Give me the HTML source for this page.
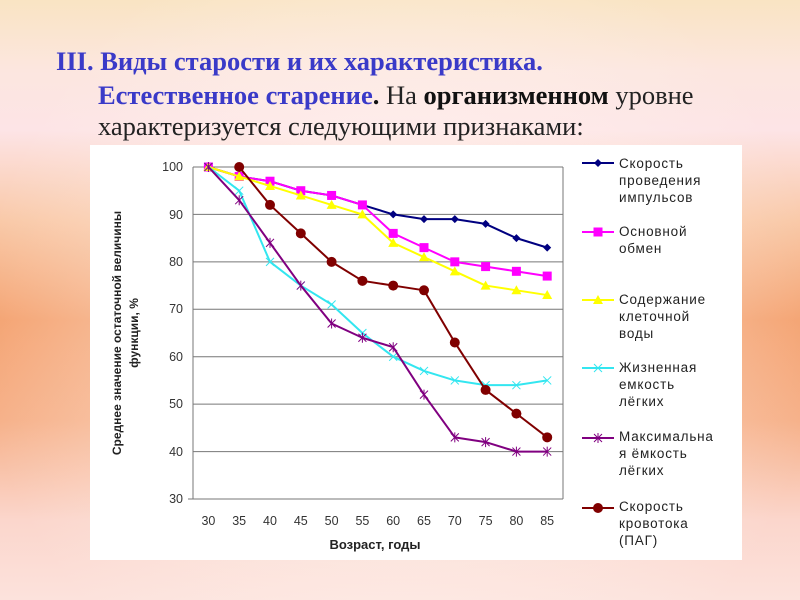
<!DOCTYPE html>
<html><head><meta charset="utf-8"><style>
html,body{margin:0;padding:0}
body{width:800px;height:600px;overflow:hidden;position:relative;
background:
radial-gradient(ellipse 420px 420px at 400px 330px, rgba(255,245,240,0.85), rgba(255,240,235,0) 100%),
linear-gradient(to bottom,#f9e4c3 0px,#fce6df 70px,#fde4e6 130px,#f9c9a8 220px,#f4a270 320px,#f6b088 420px,#fbd6cc 520px,#fce2dc 600px);
font-family:"Liberation Serif",serif}
.t1{position:absolute;left:56px;top:44px;font-size:26.5px;font-weight:bold;color:#3a3ac8;white-space:nowrap;line-height:34px}
.t2{position:absolute;left:98px;top:80px;font-size:26.5px;color:#222;white-space:nowrap;line-height:31px}
.b{color:#3a3ac8;font-weight:bold}
.k{font-weight:bold;color:#111}
svg{position:absolute;left:0;top:0}
</style></head><body>
<div class="t1">III. Виды старости и их характеристика.</div>
<div class="t2"><span class="b">Естественное старение</span><span class="k">.</span> На <span class="k">организменном</span> уровне<br>характеризуется следующими признаками:</div>
<svg width="800" height="600" id="s" font-family="Liberation Sans, sans-serif">
<rect x="90" y="145" width="652" height="415" fill="#fff"/>
<g stroke="#777" stroke-width="1">
<line x1="193" y1="167" x2="563" y2="167"/><line x1="193" y1="214.4" x2="563" y2="214.4"/><line x1="193" y1="261.9" x2="563" y2="261.9"/><line x1="193" y1="309.3" x2="563" y2="309.3"/><line x1="193" y1="356.7" x2="563" y2="356.7"/><line x1="193" y1="404.1" x2="563" y2="404.1"/><line x1="193" y1="451.6" x2="563" y2="451.6"/>
<line x1="193" y1="167" x2="193" y2="499"/><line x1="188" y1="499" x2="563" y2="499"/><line x1="563" y1="167" x2="563" y2="499"/>
</g>
<g font-size="12.5" fill="#333" text-anchor="end">
<text x="183" y="171">100</text><text x="183" y="219">90</text><text x="183" y="266">80</text><text x="183" y="313">70</text><text x="183" y="361">60</text><text x="183" y="408">50</text><text x="183" y="456">40</text><text x="183" y="503">30</text>
</g>
<g font-size="12.5" fill="#333" text-anchor="middle" id="xl"></g>
<text x="375" y="549" font-size="13" font-weight="bold" text-anchor="middle" fill="#222">Возраст, годы</text>
<text transform="translate(121,333) rotate(-90)" font-size="12" font-weight="bold" text-anchor="middle" fill="#222"><tspan x="0" y="0">Среднее значение остаточной величины</tspan><tspan x="0" y="17">функции, %</tspan></text>
<g id="ser"></g>
<g font-size="13.5" fill="#222" letter-spacing="0.8">
<text x="619" y="168">Скорость</text><text x="619" y="185">проведения</text><text x="619" y="202">импульсов</text>
<text x="619" y="236">Основной</text><text x="619" y="253">обмен</text>
<text x="619" y="304">Содержание</text><text x="619" y="321">клеточной</text><text x="619" y="338">воды</text>
<text x="619" y="372">Жизненная</text><text x="619" y="389">емкость</text><text x="619" y="406">лёгких</text>
<text x="619" y="441">Максимальна</text><text x="619" y="458">я ёмкость</text><text x="619" y="475">лёгких</text>
<text x="619" y="511">Скорость</text><text x="619" y="528">кровотока</text><text x="619" y="545">(ПАГ)</text>
</g>
</svg>
<script>
var NS="http://www.w3.org/2000/svg",xl=document.getElementById('xl'),g=document.getElementById('ser');
function X(i){return 208.4+30.8*i}function Y(v){return 499-(v-30)*4.743}
for(var i=0;i<12;i++){var t=document.createElementNS(NS,'text');t.setAttribute('x',X(i));t.setAttribute('y',525);t.textContent=30+5*i;xl.appendChild(t);}
function el(n,a){var e=document.createElementNS(NS,n);for(var k in a)e.setAttribute(k,a[k]);g.appendChild(e);return e}
function mark(type,c,x,y){
 if(type=='d')el('polygon',{points:(x)+','+(y-4)+' '+(x+4)+','+y+' '+x+','+(y+4)+' '+(x-4)+','+y,fill:c});
 else if(type=='s')el('rect',{x:x-4.5,y:y-4.5,width:9,height:9,fill:c});
 else if(type=='t')el('polygon',{points:x+','+(y-5)+' '+(x+5)+','+(y+4)+' '+(x-5)+','+(y+4),fill:c});
 else if(type=='x'){el('path',{d:'M'+(x-4)+' '+(y-4)+'L'+(x+4)+' '+(y+4)+'M'+(x+4)+' '+(y-4)+'L'+(x-4)+' '+(y+4),stroke:c,'stroke-width':1});}
 else if(type=='a'){el('path',{d:'M'+(x-4)+' '+(y-4)+'L'+(x+4)+' '+(y+4)+'M'+(x+4)+' '+(y-4)+'L'+(x-4)+' '+(y+4)+'M'+x+' '+(y-5)+'L'+x+' '+(y+5),stroke:c,'stroke-width':1});}
 else if(type=='c')el('circle',{cx:x,cy:y,r:5,fill:c});
}
var S=[
 ['#000080','d',0,[100,98,97,95,94,92,90,89,89,88,85,83]],
 ['#ff00ff','s',0,[100,98,97,95,94,92,86,83,80,79,78,77]],
 ['#ffff00','t',0,[100,98,96,94,92,90,84,81,78,75,74,73]],
 ['#33e6f0','x',0,[100,95,80,75,71,65,60,57,55,54,54,55]],
 ['#800080','a',0,[100,93,84,75,67,64,62,52,43,42,40,40]],
 ['#800000','c',1,[100,92,86,80,76,75,74,63,53,48,43]]
];
var ly=[163,232,300,368,438,508];
S.forEach(function(s,k){
 var p=s[3].map(function(v,j){return X(j+s[2])+','+Y(v)}).join(' ');
 el('polyline',{points:p,fill:'none',stroke:s[0],'stroke-width':2,'stroke-linejoin':'round'});
 s[3].forEach(function(v,j){mark(s[1],s[0],X(j+s[2]),Y(v))});
 el('line',{x1:582,y1:ly[k],x2:614,y2:ly[k],stroke:s[0],'stroke-width':2});
 mark(s[1],s[0],598,ly[k]);
});
</script>
</body></html>
